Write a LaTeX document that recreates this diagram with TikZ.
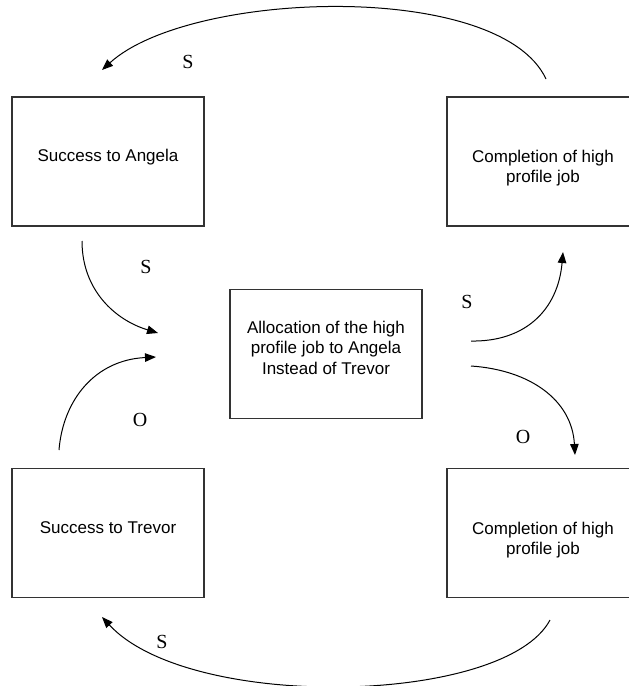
\documentclass[tikz,border=0pt]{standalone}
\usepackage{fontspec}
\setmainfont{Liberation Serif}
\newfontfamily\boxfont{Liberation Sans}
\usetikzlibrary{arrows.meta}
\begin{document}
\begin{tikzpicture}[x=1pt,y=-1pt,
  box/.style={draw=black!80, line width=1.1pt, minimum width=192pt, minimum height=129pt, inner sep=0pt},
  boxtext/.style={font=\boxfont\fontsize{17}{20.5}\selectfont, align=center, inner sep=0pt, anchor=base},
  sign/.style={font=\fontsize{20}{24}\selectfont, inner sep=0pt},
  link/.style={line width=1pt, -{Triangle[length=11pt,width=8.5pt]}}]
\useasboundingbox (0,0) rectangle (629,686);
\clip (0,0) rectangle (629,686);
% boxes
\node[box] (TL) at (108,161.5) {};
\node[box] (TR) at (543,161.5) {};
\node[box] (C)  at (326,354) {};
\node[box] (BL) at (108,533) {};
\node[box] (BR) at (543,533) {};
% texts (base = baseline of the last line)
\node[boxtext] (tTL) at (108,161.7) {Success to Angela};
\node[boxtext] (tTR) at (543,182.5) {Completion of high\\profile job};
\node[boxtext] (tC)  at (326,374) {Allocation of the high\\profile job to Angela\\Instead of Trevor};
\node[boxtext] (tBL) at (108,533) {Success to Trevor};
\node[boxtext] (tBR) at (543,554.5) {Completion of high\\profile job};
% connector ends
\coordinate (topS) at (546,79);
\coordinate (topE) at (102,70);
\coordinate (botS) at (550,620);
\coordinate (botE) at (102,617);
\coordinate (luS) at (82,241);
\coordinate (luE) at (158,333);
\coordinate (llS) at (59,450);
\coordinate (llE) at (156,357);
\coordinate (ruS) at (471,341);
\coordinate (ruE) at (563,252);
\coordinate (rlS) at (471,366);
\coordinate (rlE) at (575,455);
% connectors
\draw[link] (topS) .. controls (500,-20) and (190,-10) .. (topE);
\draw[link] (botS) .. controls (505,705) and (190,712) .. (botE);
\draw[link] (luS) .. controls (82,290) and (115,320) .. (luE);
\draw[link] (llS) .. controls (63,400) and (95,360) .. (llE);
\draw[link] (ruS) .. controls (525,342) and (558,310) .. (ruE);
\draw[link] (rlS) .. controls (530,370) and (572,400) .. (rlE);
% labels
\node[sign] (sTop) at (188,62) {S};
\node[sign] (sLU) at (146,267) {S};
\node[sign] (oLL) at (140,420) {O};
\node[sign] (sRU) at (467,302) {S};
\node[sign] (oRL) at (523,437) {O};
\node[sign] (sBot) at (162,642) {S};
\end{tikzpicture}
\end{document}
